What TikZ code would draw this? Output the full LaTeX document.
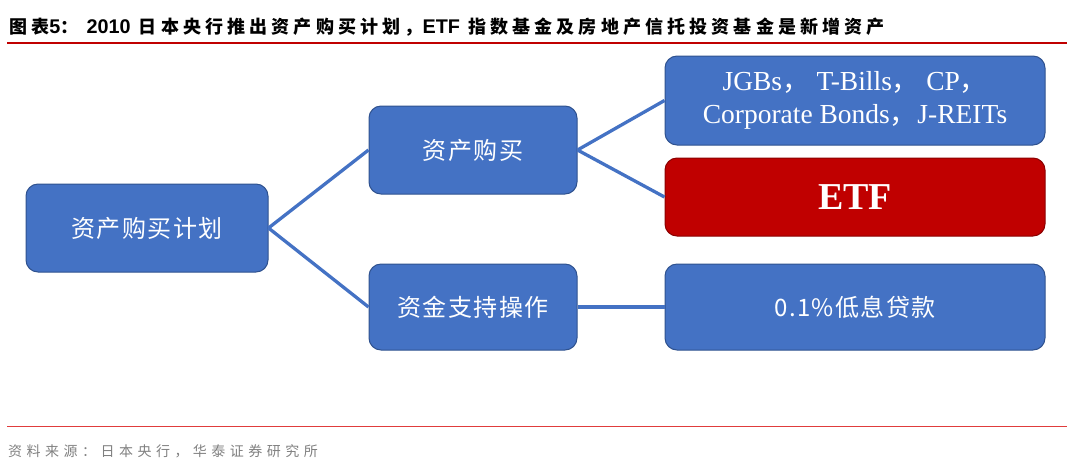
\documentclass[tikz,border=0pt]{standalone}
\usepackage{fontspec}
\usepackage{tikz}
\usetikzlibrary{positioning}
\setmainfont{Liberation Serif}
\newfontfamily\cjk{Noto Sans CJK SC}
\newfontfamily\cjkbox{Noto Sans CJK SC}[LetterSpace=6]
\newfontfamily\cjktitle{Noto Sans CJK SC}[LetterSpace=23]
\newfontfamily\lattitle{Liberation Sans}[Scale=1.1]
\newfontfamily\cjkfoot{Noto Sans CJK SC}[LetterSpace=32]
\newcommand{\tl}[1]{{\lattitle\bfseries #1}}
\definecolor{boxblue}{HTML}{4472C4}
\definecolor{boxedge}{HTML}{2F528F}
\definecolor{etfred}{HTML}{C00000}
\definecolor{etfedge}{HTML}{8B0000}
\definecolor{rulered}{HTML}{C00000}
\definecolor{footred}{HTML}{E03C3C}
\definecolor{footgray}{HTML}{808080}

\begin{document}
\begin{tikzpicture}[x=1pt,y=-1pt,
  box/.style={draw=boxedge,line width=1pt,fill=boxblue,rounded corners=12pt,
    text=white,align=center,inner sep=0pt},
  link/.style={draw=boxblue,line width=3.3pt}]
\useasboundingbox (0,0) rectangle (1080,467);

% title and rules
\node[anchor=west,inner sep=0pt] (title) at (9,27)
  {\cjktitle\bfseries\fontsize{18}{20}\selectfont 图表\tl{5}： \tl{2010} 日本央行推出资产购买计划，\tl{ETF} 指数基金及房地产信托投资基金是新增资产};
\draw[rulered,line width=2pt] (7,42.7) -- (1067,42.7);
\draw[footred,line width=1.5pt] (7,426.7) -- (1067,426.7);
\node[anchor=west,inner sep=0pt,text=footgray] (source) at (8,451)
  {\cjkfoot\fontsize{14}{16}\selectfont 资料来源：日本央行，华泰证券研究所};

% boxes
\node[box,minimum width=242pt,minimum height=88pt] (plan) at (147,228)
  {\cjkbox\fontsize{24}{28}\selectfont 资产购买计划};
\node[box,minimum width=208pt,minimum height=88pt] (buy) at (473,150)
  {\cjkbox\fontsize{24}{28}\selectfont 资产购买};
\node[box,minimum width=208pt,minimum height=86pt] (fund) at (473,307)
  {\cjkbox\fontsize{24}{28}\selectfont 资金支持操作};
\node[box,minimum width=380pt,minimum height=89pt,font=\fontsize{27.5}{33}\selectfont] (assets) at (855,100.5)
  {JGBs{\cjk ，} T-Bills{\cjk ，} CP{\cjk ，}\\
   Corporate Bonds{\cjk ，}J-REITs};
\node[box,draw=etfedge,fill=etfred,minimum width=380pt,minimum height=78pt] (etf) at (855,197)
  {\bfseries\fontsize{38}{40}\selectfont ETF};
\node[box,minimum width=380pt,minimum height=86pt] (loan) at (855,307)
  {\cjkbox\fontsize{24}{28}\selectfont 0.1\%低息贷款};

% links
\draw[link] (plan.east) -- (buy.west);
\draw[link] (plan.east) -- (fund.west);
\draw[link] (buy.east) -- (assets.west);
\draw[link] (buy.east) -- (etf.west);
\draw[link] (fund.east) -- (loan.west);

\end{tikzpicture}
\end{document}
